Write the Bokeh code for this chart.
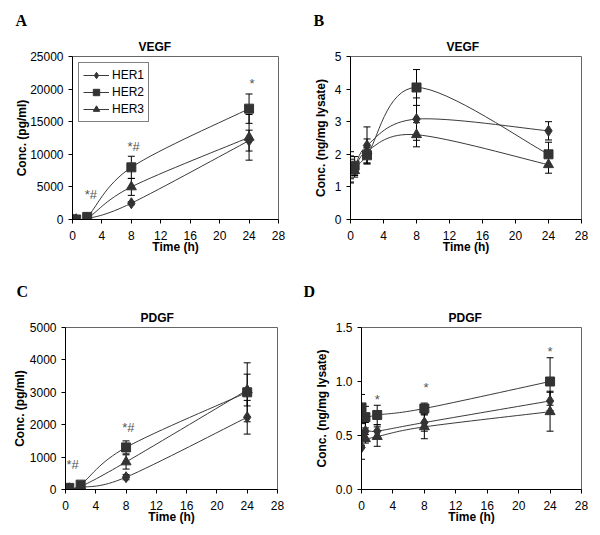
import numpy as np
from bokeh.plotting import figure
from bokeh.models import (ColumnDataSource, Whisker, FixedTicker, Legend, LegendItem,
                          NumeralTickFormatter, Range1d, TeeHead, Title)
from bokeh.layouts import column, row
from bokeh.embed import file_html
from bokeh.resources import INLINE
from bokeh.core.properties import value

# ---------------- data ----------------
time_h = [0, 0.5, 2, 8, 24]
series_names = ["HER1", "HER2", "HER3"]
x_ticks = [0, 4, 8, 12, 16, 20, 24, 28]

# A: VEGF, pg/ml
a_her1 = [0, 0, 100, 2500, 12100]
a_her1_err = [20, 20, 50, 250, 1600]
a_her2 = [0, 0, 400, 8000, 17000]
a_her2_err = [20, 20, 100, 1700, 2250]
a_her3 = [0, 0, 150, 5000, 12600]
a_her3_err = [20, 20, 60, 1300, 3500]
a_y_ticks = [0, 5000, 10000, 15000, 20000, 25000]
a_ann_x = [2.5, 8.3, 24.4]
a_ann_y = [3900, 11200, 20800]
a_ann_text = ["*#", "*#", "*"]

# B: VEGF, ng/mg lysate
b_her1 = [1.55, 1.55, 2.27, 3.08, 2.72]
b_her1_err = [0.4, 0.2, 0.57, 0.65, 0.28]
b_her2 = [1.6, 1.65, 1.97, 4.05, 2.0]
b_her2_err = [0.48, 0.28, 0.24, 0.55, 0.37]
b_her3 = [1.55, 1.5, 2.1, 2.6, 1.68]
b_her3_err = [0.3, 0.2, 0.37, 0.37, 0.26]
b_y_ticks = [0, 1, 2, 3, 4, 5]

# C: PDGF, pg/ml
c_her1 = [20, 20, 60, 380, 2230]
c_her1_err = [10, 10, 20, 80, 520]
c_her2 = [40, 50, 150, 1300, 3000]
c_her2_err = [20, 20, 40, 200, 910]
c_her3 = [30, 30, 90, 850, 3070]
c_her3_err = [10, 10, 30, 220, 490]
c_y_ticks = [0, 1000, 2000, 3000, 4000, 5000]
c_ann_x = [0.95, 8.3]
c_ann_y = [760, 1900]
c_ann_text = ["*#", "*#"]

# D: PDGF, ng/mg lysate
d_her1 = [0.39, 0.54, 0.54, 0.62, 0.82]
d_her1_err = [0.11, 0.08, 0.06, 0.08, 0.09]
d_her2 = [0.76, 0.67, 0.69, 0.75, 1.00]
d_her2_err = [0.12, 0.10, 0.09, 0.05, 0.22]
d_her3 = [0.51, 0.47, 0.49, 0.58, 0.72]
d_her3_err = [0.10, 0.04, 0.09, 0.11, 0.18]
d_y_ticks = [0, 0.5, 1.0, 1.5]
d_ann_x = [2.0, 8.2, 24.0]
d_ann_y = [0.83, 0.94, 1.28]
d_ann_text = ["*", "*", "*"]

FONT = "Liberation Sans"
MARKERS = ["diamond", "square", "triangle"]
MSIZE = [11, 9, 10]
DARK = "#333333"


def smooth_bezier(xs, ys):
    """Excel-like smoothed line: cubic bezier segments (Catmull-Rom control points)."""
    n = len(xs)
    P = list(zip(xs, ys))
    d = dict(x0=[], y0=[], x1=[], y1=[], cx0=[], cy0=[], cx1=[], cy1=[])
    for i in range(n - 1):
        p0 = P[i - 1] if i > 0 else P[i]
        p1, p2 = P[i], P[i + 1]
        p3 = P[i + 2] if i + 2 < n else P[i + 1]
        d["x0"].append(p1[0]); d["y0"].append(p1[1])
        d["x1"].append(p2[0]); d["y1"].append(p2[1])
        d["cx0"].append(p1[0] + (p2[0] - p0[0]) / 6.0)
        d["cy0"].append(p1[1] + (p2[1] - p0[1]) / 6.0)
        d["cx1"].append(p2[0] - (p3[0] - p1[0]) / 6.0)
        d["cy1"].append(p2[1] - (p3[1] - p1[1]) / 6.0)
    return ColumnDataSource(d)


def make_panel(w, h, bl, br, bt, bb, y_end, y_ticks, y_label, y_label_standoff,
               title, title_offset, title_standoff, letter, letter_offset, letter_standoff,
               series, errs, ann=None, y_fmt=None, legend=False):
    p = figure(width=w, height=h, output_backend="svg", toolbar_location=None,
               x_range=Range1d(0, 28), y_range=Range1d(0, y_end),
               min_border_left=bl, min_border_right=br, min_border_top=bt,
               min_border_bottom=bb)
    p.background_fill_color = "white"
    p.border_fill_color = "white"
    p.outline_line_color = "#666666"
    p.outline_line_width = 1
    p.xgrid.visible = False
    p.ygrid.visible = False

    t1 = Title(text=title, align="left", offset=title_offset, standoff=title_standoff,
               text_font=FONT, text_font_size="12px", text_font_style="bold",
               text_color="black")
    p.add_layout(t1, "above")
    t2 = Title(text=letter, align="left", offset=letter_offset, standoff=letter_standoff,
               text_font="Liberation Serif", text_font_size="16px",
               text_font_style="bold", text_color="black")
    p.add_layout(t2, "above")

    for ax in (p.xaxis[0], p.yaxis[0]):
        ax.axis_line_color = "black"
        ax.major_tick_line_color = "black"
        ax.major_tick_out = 4
        ax.major_tick_in = 0
        ax.minor_tick_line_color = None
        ax.major_label_text_font = FONT
        ax.major_label_text_font_size = "12px"
        ax.major_label_text_color = "black"
        ax.axis_label_text_font = FONT
        ax.axis_label_text_font_size = "12px"
        ax.axis_label_text_font_style = "bold"
        ax.axis_label_text_color = "black"

    p.xaxis.ticker = FixedTicker(ticks=x_ticks)
    p.xaxis.axis_label = "Time (h)"
    p.xaxis.major_label_standoff = 7
    p.xaxis.axis_label_standoff = -3
    p.yaxis.ticker = FixedTicker(ticks=y_ticks)
    p.yaxis.axis_label = y_label
    p.yaxis.axis_label_standoff = y_label_standoff
    p.yaxis.major_label_standoff = 5
    if y_fmt:
        p.yaxis.formatter = NumeralTickFormatter(format=y_fmt)

    items = []
    for name, ys, es, mk, ms in zip(series_names, series, errs, MARKERS, MSIZE):
        src = ColumnDataSource(dict(t=time_h, y=ys,
                                    up=[a + b for a, b in zip(ys, es)],
                                    lo=[a - b for a, b in zip(ys, es)]))
        bz = p.bezier(x0="x0", y0="y0", x1="x1", y1="y1", cx0="cx0", cy0="cy0",
                      cx1="cx1", cy1="cy1", source=smooth_bezier(time_h, ys),
                      line_color="#3a3a3a", line_width=1)
        wk = Whisker(base="t", upper="up", lower="lo", source=src,
                     line_color="black", line_width=1,
                     upper_head=TeeHead(size=7, line_color="black", line_width=1),
                     lower_head=TeeHead(size=7, line_color="black", line_width=1))
        p.add_layout(wk)
        sc = p.scatter(x="t", y="y", source=src, marker=mk, size=ms,
                       fill_color=DARK, line_color=DARK)
        items.append(LegendItem(label=name, renderers=[bz, sc]))

    if legend:
        lg = Legend(items=items, location="top_left")
        lg.margin = 6
        lg.padding = 4
        lg.spacing = 1
        lg.glyph_width = 26
        lg.glyph_height = 16
        lg.label_height = 16
        lg.label_standoff = 3
        lg.label_text_font = FONT
        lg.label_text_font_size = "12px"
        lg.label_text_color = "black"
        lg.border_line_color = "black"
        lg.border_line_width = 1
        lg.background_fill_color = "white"
        lg.background_fill_alpha = 1
        p.add_layout(lg)

    if ann is not None:
        ax_, ay_, at_ = ann
        p.text(x=ax_, y=ay_, text=at_, text_font=value(FONT), text_font_size="13px",
               text_align="center", text_baseline="middle", text_color="#555555")
    return p


pa = make_panel(300, 262, 72, 22, 55, 43, 25000, a_y_ticks, "Conc. (pg/ml)", -2,
                "VEGF", 66, 5, "A", -57, 13,
                [a_her1, a_her2, a_her3], [a_her1_err, a_her2_err, a_her3_err],
                ann=(a_ann_x, a_ann_y, a_ann_text), legend=True)
pb = make_panel(299, 262, 50, 18, 56, 43, 5, b_y_ticks, "Conc. (ng/mg lysate)", 4,
                "VEGF", 96, 5, "B", -37, 13,
                [b_her1, b_her2, b_her3], [b_her1_err, b_her2_err, b_her3_err])
pc = make_panel(300, 272, 65, 23, 62, 45, 5000, c_y_ticks, "Conc. (pg/ml)", 0,
                "PDGF", 75, 5, "C", -49, 13,
                [c_her1, c_her2, c_her3], [c_her1_err, c_her2_err, c_her3_err],
                ann=(c_ann_x, c_ann_y, c_ann_text))
pd_ = make_panel(299, 272, 61, 18, 65, 42, 1.5, d_y_ticks, "Conc. (ng/mg lysate)", 4,
                 "PDGF", 87, 5, "D", -58, 13,
                 [d_her1, d_her2, d_her3], [d_her1_err, d_her2_err, d_her3_err],
                 ann=(d_ann_x, d_ann_y, d_ann_text), y_fmt="0.0")

layout = column(row(pa, pb), row(pc, pd_))
open("out.html", "w").write(file_html(layout, INLINE))
